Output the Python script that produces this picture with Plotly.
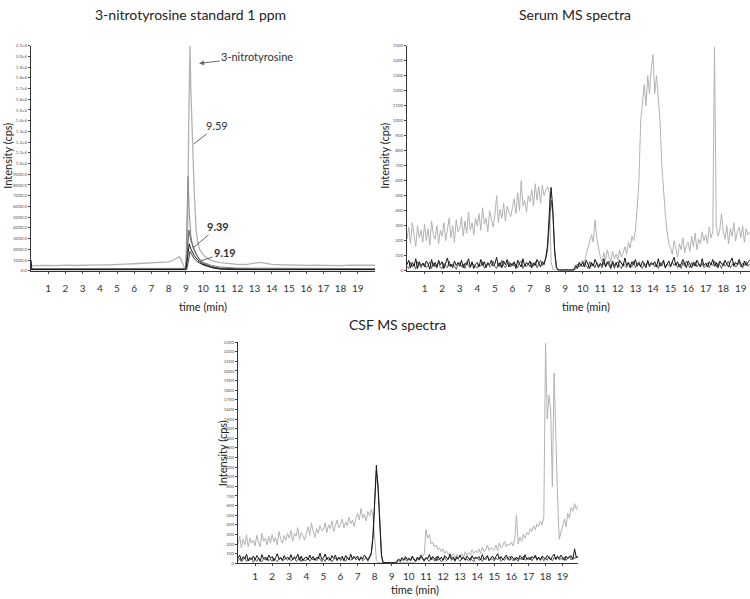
import numpy as np
import plotly.graph_objects as go

# =========================
# DATA
# =========================
# --- 3-nitrotyrosine standard 1 ppm ---
std_lgray_t = [0, 0.5, 1, 1.5, 2, 2.5, 3, 3.5, 4, 4.5, 5, 5.5, 6, 6.5, 7, 7.5, 8, 8.3, 8.5, 8.6,
               8.7, 8.8, 8.9, 9.0, 9.1, 9.17, 9.24, 9.3, 9.4, 9.5, 9.6, 9.7, 9.8, 10.0, 10.3, 10.6,
               11, 11.5, 12, 12.5, 13, 13.3, 13.6, 14, 14.5, 15, 15.5, 16, 16.5, 17, 17.5, 18,
               18.5, 19, 19.5, 20]
std_lgray = [480, 520, 500, 470, 520, 490, 530, 510, 550, 540, 600, 620, 650, 680, 700, 760, 830, 1000,
             1250, 1300, 1150, 700, 350, 300, 2500, 14000, 21000, 16500, 11500, 7000, 3800, 2600,
             2000, 1500, 1100, 900, 750, 650, 600, 580, 700, 780, 720, 600, 560, 520, 540, 500,
             520, 490, 510, 480, 520, 500, 490, 510]

std_mgray_t = [0, 2, 4, 6, 8, 8.9, 9.0, 9.05, 9.13, 9.2, 9.3, 9.4, 9.6, 9.8, 10.0, 10.5, 11, 12, 14, 16, 18, 20]
std_mgray = [200, 220, 210, 230, 250, 220, 300, 3000, 8800, 5500, 3200, 2200, 1500, 1100, 800, 500,
             350, 250, 220, 200, 210, 200]

std_dgray_t = [0, 3, 6, 9.0, 9.08, 9.18, 9.3, 9.45, 9.6, 9.8, 10.0, 10.5, 11, 12, 15, 20]
std_dgray = [150, 160, 150, 150, 1500, 3800, 2800, 2200, 1600, 1000, 700, 400, 250, 180, 160, 150]

std_dark_t = [0, 4, 8, 9.05, 9.15, 9.25, 9.35, 9.5, 9.7, 10.0, 10.5, 11, 13, 20]
std_dark = [120, 130, 120, 130, 900, 1800, 1500, 1100, 800, 550, 300, 180, 120, 110]

std_black_t = [0, 0.05, 3, 6, 9.0, 9.1, 9.2, 9.3, 9.5, 9.7, 10.0, 10.5, 11, 12, 16, 20]
std_black = [1000, 100, 90, 100, 100, 1200, 2500, 2000, 1400, 1000, 600, 300, 150, 100, 90, 100]

std_yticks = [0, 1000, 2000, 3000, 4000, 5000, 6000, 7000, 8000, 9000, 10000, 11000, 12000, 13000,
              14000, 15000, 16000, 17000, 18000, 19000, 20000, 21000]
std_yticktext = ["0.0", "1000.0", "2000.0", "3000.0", "4000.0", "5000.0", "6000.0", "7000.0", "8000.0",
                 "9000.0", "1.0e4", "1.1e4", "1.2e4", "1.3e4", "1.4e4", "1.5e4", "1.6e4", "1.7e4",
                 "1.8e4", "1.9e4", "2.0e4", "2.1e4"]

# --- Serum MS spectra (0.1 min steps, 0.0 .. 19.5) ---
serum_lgray = [
    210, 290, 180, 320, 240, 160, 300, 220, 270, 190,
    310, 200, 280, 170, 330, 240, 210, 300, 180, 270,
    230, 320, 200, 290, 350, 220, 300, 190, 340, 260,
    280, 360, 230, 330, 250, 390, 270, 320, 240, 350,
    300, 380, 270, 420, 310, 350, 260, 400, 330, 290,
    370, 500, 320, 410, 350, 450, 330, 430, 390, 360,
    420, 480, 380, 520, 400, 600, 430, 470, 390, 500,
    460, 540, 430, 580, 470, 560, 450, 570, 500, 540,
    560, 520, 60, 10, 5, 5, 5, 5, 5, 5,
    5, 5, 5, 5, 5, 5, 10, 20, 40, 60,
    70, 50, 110, 160, 210, 240, 190, 340, 220, 140,
    90, 60, 120, 70, 140, 90, 60, 130, 80, 110,
    70, 140, 90, 120, 160, 110, 190, 150, 230, 200,
    270, 420, 600, 1000, 1150, 1240, 1100, 1300, 1180, 1350,
    1440, 1180, 1300, 1150, 1000, 710, 520, 380, 260, 180,
    150, 110, 200, 130, 90, 180, 140, 220, 120, 170,
    190, 130, 230, 160, 250, 140, 210, 180, 260, 200,
    240, 180, 290, 220, 260, 1490, 300, 230, 270, 380,
    260, 210, 300, 180, 280, 230, 320, 200, 260, 290,
    220, 300, 190, 280, 240, 260]

serum_dgray = [
    30, 15, 55, 25, 45, 10, 60, 35, 20, 50,
    45, 20, 35, 60, 15, 50, 25, 40, 55, 20,
    15, 50, 30, 20, 65, 25, 45, 30, 10, 40,
    55, 25, 45, 15, 60, 30, 20, 50, 35, 25,
    20, 45, 30, 60, 15, 40, 55, 25, 35, 65,
    30, 15, 50, 25, 70, 35, 20, 45, 60, 25,
    50, 30, 45, 20, 55, 65, 15, 40, 25, 50,
    25, 55, 30, 60, 20, 45, 70, 35, 55, 80,
    140, 300, 470, 380, 150, 30, 5, 3, 4, 5,
    3, 5, 4, 3, 5, 4, 20, 45, 25, 40,
    25, 50, 35, 15, 60, 30, 45, 20, 55, 35,
    40, 20, 55, 30, 45, 65, 25, 50, 15, 45,
    60, 30, 15, 50, 35, 20, 55, 40, 25, 65,
    20, 45, 60, 30, 15, 50, 35, 55, 25, 40,
    50, 25, 40, 15, 55, 30, 60, 20, 45, 35,
    25, 60, 35, 50, 20, 45, 15, 55, 30, 65,
    40, 20, 55, 35, 60, 25, 45, 30, 50, 20,
    30, 55, 20, 45, 35, 65, 25, 50, 40, 15,
    55, 30, 45, 65, 20, 40, 55, 25, 35, 60,
    25, 50, 35, 60, 30, 45]

serum_black = [
    40, 70, 20, 55, 30, 80, 15, 60, 35, 50,
    25, 65, 45, 10, 75, 30, 55, 20, 70, 40,
    60, 15, 50, 85, 30, 45, 20, 65, 35, 55,
    30, 70, 20, 50, 40, 80, 25, 60, 15, 45,
    55, 25, 75, 35, 60, 20, 50, 40, 70, 30,
    45, 90, 30, 55, 20, 65, 40, 75, 25, 50,
    35, 60, 15, 70, 45, 25, 80, 30, 55, 40,
    65, 20, 50, 35, 75, 45, 25, 60, 40, 90,
    170, 390, 555, 410, 130, 20, 6, 4, 5, 3,
    4, 6, 3, 5, 4, 6, 35, 15, 55, 30,
    60, 25, 70, 40, 15, 55, 30, 75, 45, 20,
    50, 35, 80, 25, 60, 40, 15, 65, 30, 55,
    20, 70, 45, 30, 85, 35, 55, 20, 60, 40,
    75, 30, 50, 25, 65, 45, 20, 70, 35, 55,
    40, 60, 25, 80, 30, 50, 70, 20, 45, 65,
    30, 55, 90, 35, 60, 25, 45, 75, 40, 20,
    65, 40, 20, 55, 30, 70, 45, 25, 80, 35,
    50, 25, 60, 40, 75, 30, 55, 20, 65, 45,
    35, 70, 45, 25, 60, 85, 30, 55, 40, 75,
    45, 20, 65, 35, 55, 70]
serum_time = np.round(np.arange(len(serum_lgray)) * 0.1, 1)

# --- CSF MS spectra (0.1 min steps, 0.0 .. 19.9) ---
csf_lgray = [
    200, 280, 160, 250, 190, 300, 170, 260, 210, 240,
    180, 290, 220, 170, 310, 230, 260, 190, 280, 210,
    300, 220, 270, 190, 330, 250, 210, 290, 240, 310,
    260, 340, 230, 310, 280, 370, 250, 320, 290, 240,
    310, 380, 290, 420, 330, 270, 360, 310, 390, 340,
    350, 420, 320, 400, 360, 440, 330, 390, 450, 370,
    400, 460, 370, 430, 390, 480, 410, 450, 380, 470,
    520, 450, 570, 470, 510, 440, 540, 490, 560, 500,
    300, 30, 5, 5, 5, 5, 5, 5, 5, 5,
    5, 5, 5, 5, 5, 5, 5, 5, 5, 5,
    5, 5, 5, 5, 20, 40, 60, 50, 80, 90,
    350, 260, 300, 200, 220, 170, 190, 140, 160, 120,
    150, 100, 130, 90, 110, 70, 100, 60, 90, 80,
    70, 100, 60, 120, 80, 110, 90, 140, 100, 130,
    110, 150, 100, 170, 120, 140, 190, 130, 160, 150,
    140, 190, 130, 210, 160, 180, 230, 170, 200, 190,
    220, 180, 250, 500, 200, 270, 230, 300, 260, 320,
    300, 360, 330, 390, 350, 410, 380, 440, 400, 480,
    2290, 1500, 1750, 1600, 800, 1980, 1300, 700, 250, 330,
    400, 460, 380, 520, 470, 580, 540, 620, 560, 600]

csf_dgray = [
    25, 50, 15, 40, 60, 20, 45, 30, 55, 10,
    40, 20, 55, 30, 15, 50, 35, 60, 25, 45,
    20, 55, 35, 15, 45, 65, 25, 40, 50, 30,
    55, 25, 40, 70, 20, 35, 60, 15, 45, 30,
    30, 60, 20, 45, 35, 55, 25, 70, 40, 15,
    45, 20, 60, 30, 50, 15, 40, 55, 25, 65,
    25, 50, 40, 20, 60, 45, 30, 55, 75, 35,
    50, 30, 70, 25, 45, 60, 20, 55, 90, 300,
    700, 960, 820, 380, 90, 5, 3, 4, 6, 4,
    5, 3, 4, 10, 30, 15, 40, 25, 50, 20,
    45, 25, 60, 35, 15, 50, 30, 65, 40, 20,
    55, 35, 20, 60, 40, 25, 70, 30, 45, 15,
    35, 60, 25, 45, 70, 30, 50, 20, 55, 40,
    20, 50, 65, 30, 45, 25, 60, 35, 15, 55,
    60, 30, 45, 20, 55, 35, 70, 25, 50, 40,
    25, 55, 35, 65, 20, 45, 30, 60, 40, 70,
    50, 25, 60, 40, 20, 55, 35, 75, 30, 45,
    35, 65, 25, 50, 70, 30, 55, 40, 60, 25,
    55, 30, 70, 45, 25, 60, 40, 80, 35, 50,
    40, 65, 30, 55, 75, 35, 60, 45, 70, 50]

csf_black = [
    50, 85, 30, 70, 45, 95, 25, 60, 40, 75,
    35, 80, 55, 20, 90, 45, 65, 30, 85, 50,
    70, 25, 60, 100, 40, 55, 30, 80, 45, 65,
    40, 90, 35, 60, 50, 95, 30, 75, 25, 55,
    65, 35, 85, 45, 70, 30, 60, 50, 105, 40,
    55, 95, 40, 65, 30, 80, 50, 85, 35, 60,
    45, 75, 25, 80, 55, 35, 95, 40, 65, 50,
    75, 30, 60, 45, 85, 55, 35, 70, 110, 260,
    640, 1020, 760, 320, 70, 6, 4, 5, 3, 5,
    4, 6, 5, 20, 45, 25, 60, 35, 70, 40,
    55, 30, 75, 45, 25, 65, 40, 85, 50, 30,
    60, 45, 90, 35, 70, 50, 25, 75, 40, 65,
    30, 80, 55, 40, 95, 45, 65, 30, 70, 50,
    85, 40, 60, 35, 75, 55, 30, 80, 45, 65,
    50, 70, 35, 90, 40, 60, 80, 30, 55, 75,
    40, 65, 100, 45, 70, 35, 55, 85, 50, 30,
    75, 50, 30, 65, 40, 80, 55, 35, 90, 45,
    60, 35, 70, 50, 85, 40, 65, 30, 75, 55,
    45, 80, 55, 35, 70, 95, 40, 65, 50, 85,
    55, 30, 75, 45, 65, 80, 40, 150, 60, 70]
csf_time = np.round(np.arange(len(csf_lgray)) * 0.1, 1)

minutes = list(range(1, 20))

# =========================
# STYLE
# =========================
W, H = 750, 599
LGRAY = "#b2b2b2"
MGRAY = "#8a8a8a"
DGRAY = "#5c5c5c"
DARK = "#3a3a3a"
BLACK = "#151515"
FONT = "Lato"


def px(x):
    return x / W


def py(y):
    return 1 - y / H


fig = go.Figure()


def line(x, y, color, xa, ya, width=1):
    fig.add_trace(go.Scatter(x=x, y=y, mode="lines", line=dict(color=color, width=width),
                             xaxis=xa, yaxis=ya, showlegend=False, hoverinfo="skip"))


# standard
line(std_lgray_t, std_lgray, LGRAY, "x", "y", 1.3)
line(std_mgray_t, std_mgray, MGRAY, "x", "y")
line(std_dgray_t, std_dgray, DGRAY, "x", "y")
line(std_dark_t, std_dark, DARK, "x", "y")
line(std_black_t, std_black, BLACK, "x", "y")

# serum
line(serum_time, serum_lgray, LGRAY, "x2", "y2")
line(serum_time, serum_dgray, DGRAY, "x2", "y2")
line(serum_time, serum_black, BLACK, "x2", "y2")

# csf
line(csf_time, csf_lgray, LGRAY, "x3", "y3")
line(csf_time, csf_dgray, DGRAY, "x3", "y3")
line(csf_time, csf_black, BLACK, "x3", "y3")

xbase = dict(tickvals=minutes, ticks="outside", ticklen=2, tickcolor="#444", showline=True,
             linecolor="#333", linewidth=1, showgrid=False, zeroline=False,
             tickfont=dict(family=FONT, size=10, color="#333"))
ybase = dict(ticks="outside", ticklen=2, tickcolor="#444", showline=True, linecolor="#333",
             linewidth=1, showgrid=False, zeroline=False,
             tickfont=dict(family=FONT, size=4.5, color="#555"))

fig.update_layout(
    width=W, height=H, margin=dict(l=0, r=0, t=0, b=0),
    plot_bgcolor="white", paper_bgcolor="white",
    xaxis=dict(xbase, domain=[px(31), px(375)], range=[0, 20], anchor="y", ticklabelstandoff=6),
    yaxis=dict(ybase, domain=[py(271), py(44)], range=[0, 21000], anchor="x",
               tickvals=std_yticks, ticktext=std_yticktext),
    xaxis2=dict(xbase, domain=[px(407), 1.0], range=[0, 19.52], anchor="y2", ticklabelstandoff=6),
    yaxis2=dict(ybase, domain=[py(271), py(44)], range=[0, 1500], anchor="x2", dtick=100),
    xaxis3=dict(xbase, domain=[px(238), px(578)], range=[0, 19.9], anchor="y3", ticklabelstandoff=2),
    yaxis3=dict(ybase, domain=[py(566), py(343)], range=[0, 2300], anchor="x3", dtick=100),
)

ann = []


def text(x, y, s, size=11, angle=0, bold=False, color="#222"):
    ann.append(dict(x=px(x), y=py(y), xref="paper", yref="paper", text=f"<b>{s}</b>" if bold else s,
                    showarrow=False, textangle=angle, xanchor="center", yanchor="middle",
                    font=dict(family=FONT, size=size, color=color)))


text(190, 13, "3-nitrotyrosine standard 1 ppm", 14)
text(575, 13, "Serum MS spectra", 14)
text(397, 325, "CSF MS spectra", 14)
text(203, 307, "time (min)", 11)
text(586, 307, "time (min)", 11)
text(415, 592, "time (min)", 11)
text(8, 155, "Intensity (cps)", 11, -90)
text(385, 155, "Intensity (cps)", 11, -90)
text(222, 455, "Intensity (cps)", 11, -90)


def callout(hx, hy, tx, ty, s, bold=False, head=2):
    ann.append(dict(x=px(hx), y=py(hy), xref="paper", yref="paper", ax=tx - hx, ay=ty - hy,
                    text=f"<b>{s}</b>" if bold else s, showarrow=True, arrowhead=head,
                    arrowsize=1, arrowwidth=1, arrowcolor="#666",
                    font=dict(family=FONT, size=11, color="#333")))


callout(199, 62, 257, 55, "3-nitrotyrosine", head=2)
callout(194, 143, 217, 125, "9.59", head=0)
callout(193, 248, 218, 227, "9.39", bold=True, head=0)
callout(198, 262, 225, 253, "9.19", bold=True, head=0)

fig.update_layout(annotations=ann)

fig.write_html("out.html", config={"displayModeBar": False},
               post_script="document.body.style.margin='0';")
